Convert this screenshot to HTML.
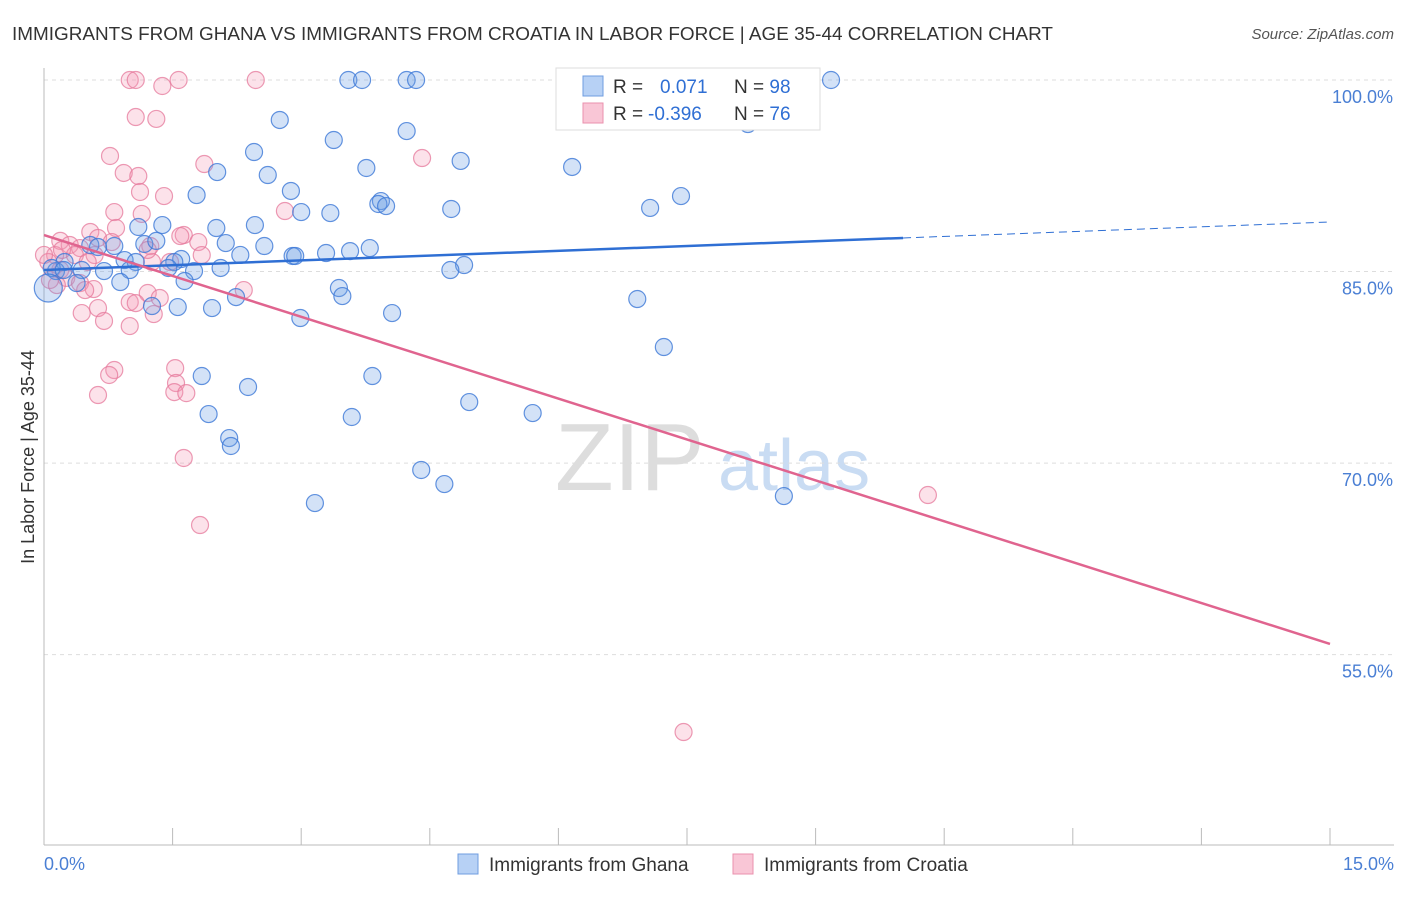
<!DOCTYPE html>
<html><head><meta charset="utf-8"><style>
body{margin:0;background:#fff;font-family:"Liberation Sans",sans-serif}
svg text{font-family:"Liberation Sans",sans-serif}
</style></head><body>
<svg id="c" width="1406" height="892" xmlns="http://www.w3.org/2000/svg">
<text x="12" y="40" font-size="18" fill="#333" textLength="1041" lengthAdjust="spacingAndGlyphs">IMMIGRANTS FROM GHANA VS IMMIGRANTS FROM CROATIA IN LABOR FORCE | AGE 35-44 CORRELATION CHART</text>
<text x="1394" y="39" font-size="15" fill="#555" font-style="italic" text-anchor="end">Source: ZipAtlas.com</text>
<text x="555" y="490" font-size="96" fill="#ddd" font-family="Liberation Serif">ZIP</text>
<text x="718" y="490" font-size="72" fill="#c9dcf3">atlas</text>
<g id="grid"></g><g id="axes"></g><g id="pts"></g><g id="lines"></g>
<text transform="translate(34,457) rotate(-90)" font-size="18" fill="#333" text-anchor="middle">In Labor Force | Age 35-44</text>
<text x="44" y="870" font-size="18" fill="#4a7fd4">0.0%</text>
<text x="1394" y="870" font-size="18" fill="#4a7fd4" text-anchor="end">15.0%</text>
<g>
<rect x="556" y="68" width="264" height="62" fill="#fff" stroke="#ddd"/>
<rect x="583" y="76" width="20" height="20" fill="#b7d1f5" stroke="#6f9de0"/>
<rect x="583" y="103" width="20" height="20" fill="#f9c6d6" stroke="#ea90ad"/>
<text x="613" y="93" font-size="19" fill="#333">R = <tspan fill="#2f6fd4" x="660">0.071</tspan><tspan fill="#333" x="734">N = </tspan><tspan fill="#2f6fd4">98</tspan></text>
<text x="613" y="120" font-size="19" fill="#333">R = <tspan fill="#2f6fd4" x="648">-0.396</tspan><tspan fill="#333" x="734">N = </tspan><tspan fill="#2f6fd4">76</tspan></text>
</g>
<g>
<rect x="458" y="854" width="20" height="20" fill="#b7d1f5" stroke="#6f9de0"/>
<text x="489" y="871" font-size="19" fill="#333">Immigrants from Ghana</text>
<rect x="733" y="854" width="20" height="20" fill="#f9c6d6" stroke="#ea90ad"/>
<text x="764" y="871" font-size="19" fill="#333">Immigrants from Croatia</text>
</g>
</svg>
<script>
const yTicks=[100,85,70,55];
const yTickLabels=["100.0%","85.0%","70.0%","55.0%"];
const xTicks=[0,1.5,3,4.5,6,7.5,9,10.5,12,13.5,15];
const ghanaX=[3.55,3.71,4.23,4.34,9.18,2.75,4.23,3.38,8.21,2.45,4.86,6.16,3.76,2.02,2.61,2.88,1.78,7.43,3.93,3.90,3.99,3.00,3.34,4.75,7.07,2.46,1.38,2.01,1.10,2.12,2.57,1.17,0.82,0.54,3.80,3.29,3.57,2.90,2.93,2.29,1.31,0.94,1.60,0.63,1.52,1.07,0.24,4.90,4.74,2.06,1.75,1.45,0.70,1.00,0.44,0.14,0.09,0.89,1.64,0.38,2.24,3.44,3.48,1.96,1.56,1.26,6.92,2.99,4.06,7.23,1.84,2.38,3.83,1.92,3.59,4.96,5.70,2.16,2.18,4.40,4.67,3.16,8.63,0.23,0.05];
const ghanaY=[100,100,100,100,100,96.87,96.0,95.3,96.55,94.36,93.66,93.19,93.11,92.79,92.56,91.31,90.99,90.91,90.52,90.29,90.13,89.66,89.58,89.9,89.98,88.64,88.64,88.41,88.49,87.23,87.0,87.16,87.0,87.08,86.84,86.45,86.6,86.22,86.22,86.3,87.4,85.9,85.98,86.92,85.75,85.75,85.75,85.51,85.12,85.28,85.04,85.28,85.04,85.12,85.12,85.04,85.28,84.18,84.26,84.1,83.0,83.71,83.08,82.14,82.22,82.3,82.85,81.36,81.75,79.09,76.82,75.96,76.82,73.84,73.61,74.78,73.92,71.96,71.34,69.46,68.36,66.87,67.42,85.12,83.71];
const croatiaX=[1.00,1.07,1.57,2.47,1.38,1.07,1.31,0.77,0.93,1.10,4.41,1.87,1.12,1.40,2.81,0.82,1.14,0.54,0.84,1.63,0.19,0.30,0.42,0.63,0.79,1.24,1.59,1.80,1.84,0.59,0.36,0.13,0.05,0.19,0.51,1.47,1.26,0.26,0.42,0.58,0.15,0.48,2.33,1.21,1.35,1.00,1.07,0.63,0.44,1.28,0.70,1.00,1.53,0.82,0.76,1.54,1.52,1.66,0.63,1.63,1.82,7.46,10.31,0,0.07,1.21,0.21];
const croatiaY=[100,100,100,100,99.53,97.1,96.95,94.05,92.72,92.48,93.89,93.42,91.23,90.91,89.74,89.66,89.51,88.1,88.41,87.86,87.4,87.08,86.84,87.63,87.31,87.0,87.78,87.31,86.29,86.29,86.29,86.29,85.75,85.12,85.75,85.75,85.75,84.5,84.1,83.63,83.94,83.55,83.55,83.32,82.93,82.61,82.53,82.14,81.75,81.67,81.13,80.73,77.44,77.29,76.9,76.27,75.56,75.48,75.33,70.4,65.15,48.94,67.5,86.3,84.34,86.69,86.69];
const ghanaTrend=[85.12,88.88];
const croatiaTrend=[87.86,55.84];
const ghanaSolidEnd=10.02;
const NS="http://www.w3.org/2000/svg";
const X=v=>44+v/15*1286;
const Y=v=>80+(100-v)*12.77;
function mk(tag,attrs,parent){const e=document.createElementNS(NS,tag);for(const k in attrs)e.setAttribute(k,attrs[k]);parent.appendChild(e);return e;}
const grid=document.getElementById('grid'),axes=document.getElementById('axes'),pts=document.getElementById('pts'),lines=document.getElementById('lines');
yTicks.forEach((t,i)=>{
 const g=mk('line',{x1:44,x2:1394,y1:Y(t),y2:Y(t),stroke:'#ddd','stroke-dasharray':'4,4'},grid);
 
 
 const tx=mk('text',{x:1393,y:Y(t)+23,'font-size':18,fill:'#4a7fd4','text-anchor':'end'},grid);
 tx.textContent=yTickLabels[i];
 
 
});
const ya=mk('line',{x1:44,x2:44,y1:68,y2:845,stroke:'#bbb'},axes);


const xa=mk('line',{x1:44,x2:1394,y1:845,y2:845,stroke:'#bbb'},axes);


xTicks.forEach(t=>{
 const l=mk('line',{x1:X(t),x2:X(t),y1:828,y2:845,stroke:'#bbb'},axes);
 
 
});
function dots(xs,ys,fill,stroke,name){
 xs.forEach((x,i)=>{
  const r=(i===xs.length-1&&name==='ghana-point')?14:8.5;
  const c=mk('circle',{cx:X(x),cy:Y(ys[i]),r:r,fill:fill,stroke:stroke,'stroke-width':1.2},pts);
  
  
 });
}
dots(croatiaX,croatiaY,'rgba(244,150,180,0.28)','rgba(230,120,155,0.75)','croatia-point');
dots(ghanaX,ghanaY,'rgba(110,160,230,0.3)','rgba(60,120,215,0.8)','ghana-point');
const gy=x=>ghanaTrend[0]+(ghanaTrend[1]-ghanaTrend[0])*x/15;
const l1=mk('line',{x1:X(0),y1:Y(gy(0)),x2:X(ghanaSolidEnd),y2:Y(gy(ghanaSolidEnd)),stroke:'#2f6fd4','stroke-width':2.5},lines);


const l2=mk('line',{x1:X(ghanaSolidEnd),y1:Y(gy(ghanaSolidEnd)),x2:X(15),y2:Y(gy(15)),stroke:'#2f6fd4','stroke-width':1,'stroke-dasharray':'8,5'},lines);


const l3=mk('line',{x1:X(0),y1:Y(croatiaTrend[0]),x2:X(15),y2:Y(croatiaTrend[1]),stroke:'#e0648f','stroke-width':2.5},lines);


</script>
</body></html>
